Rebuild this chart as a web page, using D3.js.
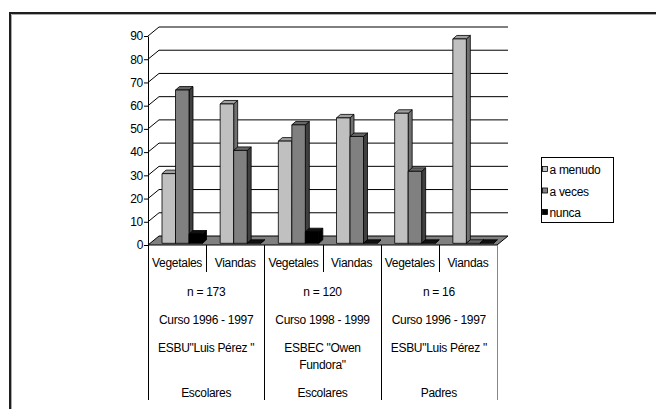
<!DOCTYPE html>
<html>
<head>
<meta charset="utf-8">
<script src="https://cdn.jsdelivr.net/npm/d3@7"></script>
<style>
  html, body { margin: 0; padding: 0; background: #fff; }
  svg { display: block; font-family: "Liberation Sans", Arial, sans-serif; }
</style>
</head>
<body>
<div id="chart"></div>
<script>
const categories = ["Vegetales", "Viandas", "Vegetales", "Viandas", "Vegetales", "Viandas"];
const groupN = ["n = 173", "n = 120", "n = 16"];
const groupCurso = ["Curso 1996 - 1997", "Curso 1998 - 1999", "Curso 1996 - 1997"];
const groupSchool = [["ESBU\"Luis Pérez \""], ["ESBEC \"Owen", "Fundora\""], ["ESBU\"Luis Pérez \""]];
const groupType = ["Escolares", "Escolares", "Padres"];
const series = ["a menudo", "a veces", "nunca"];
const aMenudo = [30, 60, 44, 54, 56, 88];
const aVeces = [66, 40, 51, 46, 31, 0];
const nunca = [4, 0, 5, 0, 0, 0];
const yTicks = [0, 10, 20, 30, 40, 50, 60, 70, 80, 90];

const W = 656, H = 409;
const DX = 11, DY = -9;          // floor depth
const BDX = 4, BDY = -3.5;       // bar depth
const SX = 2, SY = -1.7;         // bar set-back

const colors = {
  "a menudo": {front: "#c0c0c0", top: "#a0a0a0", side: "#707070"},
  "a veces": {front: "#808080", top: "#666666", side: "#404040"},
  "nunca": {front: "#000000", top: "#111111", side: "#000000"}
};
const values = {"a menudo": aMenudo, "a veces": aVeces, "nunca": nunca};

const svg = d3.select("#chart").append("svg")
  .attr("width", W).attr("height", H);

const x = d3.scaleBand().domain(d3.range(categories.length)).range([148, 497]);
const y = d3.scaleLinear().domain([0, 90]).range([245, 36]);
const xs = d3.scaleBand().domain(series).range([12, 52.5]);

// frame
svg.append("path").attr("d", `M10,${H + 5}V13H${W + 5}`)
  .attr("fill", "none").attr("stroke", "#1e1e1e").attr("stroke-width", 2);
svg.append("path").attr("d", `M11.5,${H + 5}V14.5H${W + 5}`)
  .attr("fill", "none").attr("stroke", "#aaa").attr("stroke-width", 1);

const x0 = x.range()[0], x1 = x.range()[1];

// floor
svg.append("path")
  .attr("d", `M${x0},${y(0)}L${x1},${y(0)}L${x1 + DX},${y(0) + DY}L${x0 + DX},${y(0) + DY}Z`)
  .attr("fill", "#808080").attr("stroke", "#000").attr("stroke-width", 1);

// gridlines on side + back wall
svg.append("g").selectAll("path").data(yTicks.filter(d => d > 0)).enter().append("path")
  .attr("d", d => `M${x0},${y(d)}L${x0 + DX},${y(d) + DY}L${x1 + DX},${y(d) + DY}`)
  .attr("fill", "none").attr("stroke", "#000").attr("stroke-width", 1);

// y axis
const yAxis = d3.axisLeft(y).tickValues(yTicks).tickSize(4).tickSizeOuter(0);
const gy = svg.append("g").attr("transform", `translate(${x0},0)`).call(yAxis);
gy.select(".domain").attr("stroke", "#000");
gy.selectAll(".tick text").attr("font-size", 12).attr("fill", "#000")
  .attr("font-family", "Liberation Sans, Arial, sans-serif").attr("x", -5)
  .attr("letter-spacing", -0.3);

// bars
const bars = [];
categories.forEach((c, i) => {
  series.forEach(s => {
    bars.push({i: i, s: s, v: values[s][i]});
  });
});
const gb = svg.append("g").attr("stroke", "#000").attr("stroke-width", 0.8).attr("stroke-linejoin", "round");
bars.forEach(b => {
  const bx = x(b.i) + xs(b.s) + SX;
  const bw = xs.bandwidth();
  const yb = y(0) + SY;
  const yt = y(b.v) + SY;
  const col = colors[b.s];
  const g = gb.append("g");
  g.append("path")
    .attr("d", `M${bx + bw},${yb}L${bx + bw + BDX},${yb + BDY}L${bx + bw + BDX},${yt + BDY}L${bx + bw},${yt}Z`)
    .attr("fill", col.side);
  g.append("path")
    .attr("d", `M${bx},${yt}L${bx + BDX},${yt + BDY}L${bx + bw + BDX},${yt + BDY}L${bx + bw},${yt}Z`)
    .attr("fill", col.top);
  if (b.v > 0) {
    g.append("rect").attr("x", bx).attr("y", yt).attr("width", bw).attr("height", yb - yt)
      .attr("fill", col.front);
  }
});

// category table
const tbl = svg.append("g").attr("font-size", 12).attr("fill", "#000")
  .attr("text-anchor", "middle").attr("letter-spacing", -0.3);
tbl.selectAll("text.cat").data(categories).enter().append("text")
  .attr("class", "cat")
  .attr("x", (d, i) => x(i) + x.bandwidth() / 2)
  .attr("y", 267)
  .text(d => d);

const gw = x.bandwidth() * 2;
const gx = i => x0 + i * gw + gw / 2;
tbl.selectAll("text.n").data(groupN).enter().append("text")
  .attr("x", (d, i) => gx(i)).attr("y", 296).text(d => d);
tbl.selectAll("text.curso").data(groupCurso).enter().append("text")
  .attr("x", (d, i) => gx(i)).attr("y", 324).text(d => d);
groupSchool.forEach((lines, i) => {
  lines.forEach((l, j) => {
    tbl.append("text").attr("x", gx(i)).attr("y", 352 + j * 17).text(l);
  });
});
tbl.selectAll("text.type").data(groupType).enter().append("text")
  .attr("x", (d, i) => gx(i)).attr("y", 397).text(d => d);

// table dividers
const lines = svg.append("g").attr("stroke-width", 1);
d3.range(categories.length + 1).forEach(i => {
  const lx = Math.round(x0 + i * x.bandwidth()) + 0.5;
  const full = i % 2 === 0;
  lines.append("line")
    .attr("x1", lx).attr("x2", lx)
    .attr("y1", y(0)).attr("y2", full ? 400 : 272)
    .attr("stroke", i === categories.length ? "#888" : "#000");
});

// legend
const lg = svg.append("g").attr("transform", "translate(541,157)");
lg.append("rect").attr("x", 0.5).attr("y", 0.5).attr("width", 72).attr("height", 65)
  .attr("fill", "#fff").attr("stroke", "#000");
series.forEach((s, i) => {
  const ly = 13 + i * 21.5;
  lg.append("rect").attr("x", 1.5).attr("y", ly - 3.5).attr("width", 5).attr("height", 5)
    .attr("fill", colors[s].front).attr("stroke", "#000").attr("stroke-width", 0.8);
  lg.append("text").attr("x", 8.5).attr("y", ly + 4).attr("font-size", 12)
    .attr("letter-spacing", -0.3).text(s);
});
</script>
</body>
</html>
